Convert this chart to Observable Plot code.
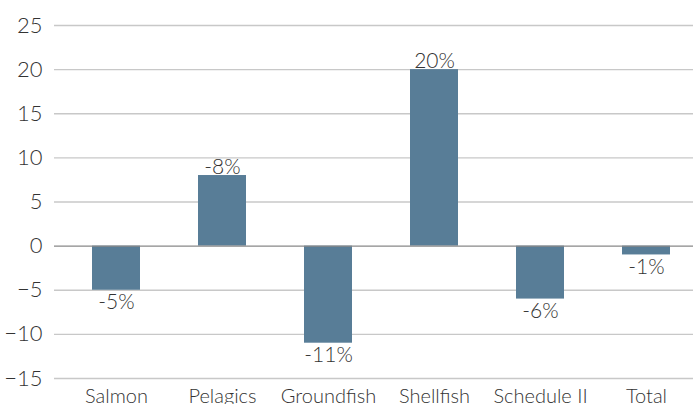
<!DOCTYPE html>
<html>
<head>
<meta charset="utf-8">
<script src="https://cdn.jsdelivr.net/npm/d3@7"></script>
<script src="https://cdn.jsdelivr.net/npm/@observablehq/plot@0.6"></script>
<style>
  html, body { margin: 0; padding: 0; background: #fff; }
  #chart svg { font-family: Lato, "Noto Sans", sans-serif; font-weight: 300; }
</style>
</head>
<body>
<div id="chart"></div>
<script>
// Percentage change by fishery category
const categories = ["Salmon", "Pelagics", "Groundfish", "Shellfish", "Schedule II", "Total"];
const values = [-5, 8, -11, 20, -6, -1];
const valueLabels = ["-5%", "-8%", "-11%", "20%", "-6%", "-1%"];
const yTicks = [-15, -10, -5, 0, 5, 10, 15, 20, 25];

const rows = categories.map((c, i) => ({category: c, value: values[i], label: valueLabels[i]}));

const chart = Plot.plot({
  width: 693,
  height: 404,
  marginTop: 25,
  marginBottom: 26,
  marginLeft: 54,
  marginRight: 0,
  style: {fontSize: "20px", color: "#333", background: "#fff"},
  // the category bands run a little past the right edge of the frame
  x: {domain: categories, range: [61, 700], paddingInner: 0.55, paddingOuter: 0.275, align: 0.5, label: null},
  y: {domain: [-15, 25], ticks: yTicks, label: null},
  marks: [
    Plot.ruleY(yTicks.filter(d => d !== 0), {stroke: "#c8c8c8", strokeWidth: 1.3}),
    Plot.axisY({ticks: yTicks, tickSize: 0, tickPadding: 12, fontSize: 22, fill: "#333", label: null}),
    Plot.axisX({tickSize: 0, tickPadding: 10, fontSize: 20, fill: "#333", label: null}),
    Plot.barY(rows, {x: "category", y: "value", fill: "#587d97"}),
    Plot.ruleY([0], {stroke: "#888", strokeWidth: 1.3}),
    Plot.text(rows.filter(d => d.value >= 0), {x: "category", y: "value", text: "label", lineAnchor: "bottom", dy: -2, fontSize: 21, fill: "#333"}),
    Plot.text(rows.filter(d => d.value < 0), {x: "category", y: "value", text: "label", lineAnchor: "top", dy: 4, fontSize: 21, fill: "#333"})
  ]
});
document.getElementById("chart").appendChild(chart);
</script>
</body>
</html>
